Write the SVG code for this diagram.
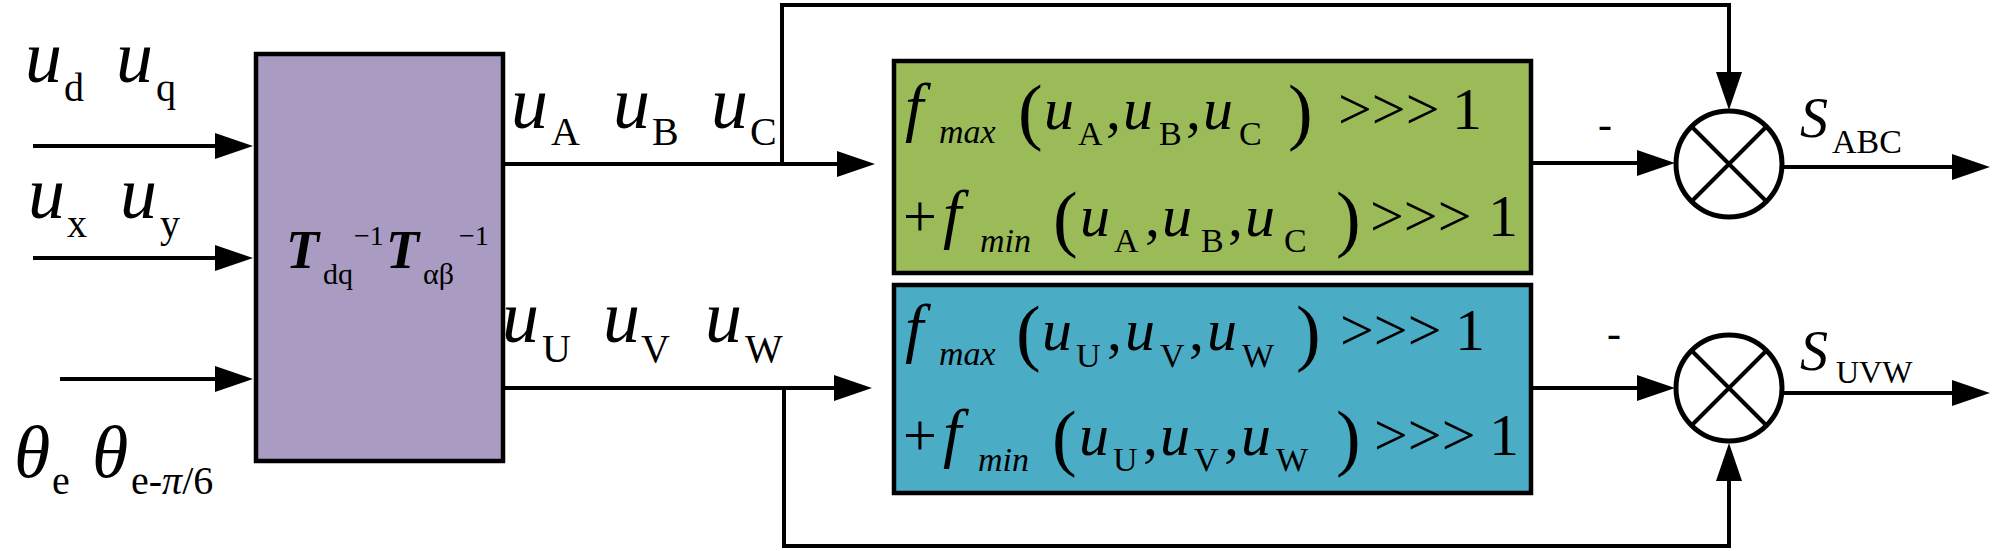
<svg xmlns="http://www.w3.org/2000/svg" width="2000" height="551" viewBox="0 0 2000 551">
<style>
.box{stroke:#000;stroke-width:4.5}
.ln{fill:none;stroke:#000;stroke-width:4;stroke-linejoin:miter}
.arr{marker-end:url(#ah)}
.t{font-family:"Liberation Serif","Times New Roman",serif;fill:#000}
.i{font-style:italic}
.big{font-size:74px}
.sub{font-size:40px}
.m{font-size:60px}
.f{font-size:66px;font-style:italic}
.ms{font-size:34px}
.p{font-size:74px}
</style>
<defs>
<marker id="ah" markerWidth="38" markerHeight="26" refX="18" refY="13" orient="auto" markerUnits="userSpaceOnUse">
<path d="M0,0 L38,13 L0,26 z" fill="#000"/>
</marker>
</defs>
<rect width="2000" height="551" fill="#fff"/>

<g id="connectors">
<path class="ln arr" d="M33,146 H233"/>
<path class="ln arr" d="M33,258 H233"/>
<path class="ln arr" d="M60,379 H233"/>
<path class="ln arr" d="M503,164 H855"/>
<path class="ln arr" d="M503,388 H852"/>
<path class="ln arr" d="M782,164 V5 H1729 V90"/>
<path class="ln arr" d="M784,388 V546 H1729 V463"/>
<path class="ln arr" d="M1531,163 H1655"/>
<path class="ln arr" d="M1531,388 H1655"/>
<path class="ln arr" d="M1783,167 H1970"/>
<path class="ln arr" d="M1783,393 H1970"/>
</g>

<g id="node-transform">
<rect class="box" x="256" y="54" width="247" height="407" fill="#A99BC1"/>
<text class="t" y="268"><tspan x="286" font-size="54" font-weight="bold" font-style="italic">T</tspan><tspan x="323" y="284" font-size="30">dq</tspan><tspan x="354" y="245" font-size="28">−1</tspan><tspan x="386" y="268" font-size="54" font-weight="bold" font-style="italic">T</tspan><tspan x="423" y="284" font-size="30">αβ</tspan><tspan x="459" y="245" font-size="28">−1</tspan></text>
</g>

<g id="node-green">
<rect class="box" x="894" y="61" width="637" height="212" fill="#9BBB59"/>
<text class="t" y="129"><tspan x="905" class="f">f</tspan><tspan x="939" y="143" class="ms i">max</tspan><tspan x="1018" y="136" class="p">(</tspan><tspan x="1044" y="129" class="m i">u</tspan><tspan x="1078" y="145" class="ms">A</tspan><tspan x="1106" y="129" class="m">,</tspan><tspan x="1123" class="m i">u</tspan><tspan x="1159" y="145" class="ms">B</tspan><tspan x="1186" y="129" class="m">,</tspan><tspan x="1203" class="m i">u</tspan><tspan x="1239" y="145" class="ms">C</tspan><tspan x="1288" y="136" class="p">)</tspan><tspan x="1338" y="129" class="m">&gt;&gt;&gt;</tspan><tspan x="1452" class="m">1</tspan></text>
<text class="t" y="236"><tspan x="903" class="m">+</tspan><tspan x="943" class="f">f</tspan><tspan x="980" y="252" class="ms i">min</tspan><tspan x="1053" y="243" class="p">(</tspan><tspan x="1080" y="236" class="m i">u</tspan><tspan x="1114" y="252" class="ms">A</tspan><tspan x="1145" y="236" class="m">,</tspan><tspan x="1162" class="m i">u</tspan><tspan x="1201" y="252" class="ms">B</tspan><tspan x="1228" y="236" class="m">,</tspan><tspan x="1245" class="m i">u</tspan><tspan x="1284" y="252" class="ms">C</tspan><tspan x="1336" y="243" class="p">)</tspan><tspan x="1370" y="236" class="m">&gt;&gt;&gt;</tspan><tspan x="1488" class="m">1</tspan></text>
</g>

<g id="node-blue">
<rect class="box" x="894" y="285" width="637" height="208" fill="#4BACC6"/>
<text class="t" y="350"><tspan x="905" class="f">f</tspan><tspan x="939" y="365" class="ms i">max</tspan><tspan x="1016" y="357" class="p">(</tspan><tspan x="1042" y="350" class="m i">u</tspan><tspan x="1076" y="367" class="ms">U</tspan><tspan x="1107" y="350" class="m">,</tspan><tspan x="1125" class="m i">u</tspan><tspan x="1160" y="367" class="ms">V</tspan><tspan x="1189" y="350" class="m">,</tspan><tspan x="1207" class="m i">u</tspan><tspan x="1242" y="367" class="ms">W</tspan><tspan x="1296" y="357" class="p">)</tspan><tspan x="1340" y="350" class="m">&gt;&gt;&gt;</tspan><tspan x="1455" class="m">1</tspan></text>
<text class="t" y="455"><tspan x="903" class="m">+</tspan><tspan x="943" class="f">f</tspan><tspan x="978" y="471" class="ms i">min</tspan><tspan x="1052" y="462" class="p">(</tspan><tspan x="1079" y="455" class="m i">u</tspan><tspan x="1113" y="471" class="ms">U</tspan><tspan x="1143" y="455" class="m">,</tspan><tspan x="1160" class="m i">u</tspan><tspan x="1194" y="471" class="ms">V</tspan><tspan x="1224" y="455" class="m">,</tspan><tspan x="1241" class="m i">u</tspan><tspan x="1276" y="471" class="ms">W</tspan><tspan x="1336" y="462" class="p">)</tspan><tspan x="1374" y="455" class="m">&gt;&gt;&gt;</tspan><tspan x="1489" class="m">1</tspan></text>
</g>

<g id="node-sum-abc">
<circle cx="1729" cy="164" r="53" fill="#fff" stroke="#000" stroke-width="5"/>
<path class="ln" d="M1691.5,126.5 L1766.5,201.5 M1766.5,126.5 L1691.5,201.5"/>
</g>

<g id="node-sum-uvw">
<circle cx="1729" cy="388" r="53" fill="#fff" stroke="#000" stroke-width="5"/>
<path class="ln" d="M1691.5,350.5 L1766.5,425.5 M1766.5,350.5 L1691.5,425.5"/>
</g>

<g id="labels">
<text class="t" y="82"><tspan x="25" class="big i">u</tspan><tspan x="64" y="101" class="sub">d</tspan><tspan x="116" y="82" class="big i">u</tspan><tspan x="156" y="101" class="sub">q</tspan></text>
<text class="t" y="218"><tspan x="28" class="big i">u</tspan><tspan x="67" y="237" class="sub">x</tspan><tspan x="120" y="218" class="big i">u</tspan><tspan x="160" y="237" class="sub">y</tspan></text>
<text class="t" y="477"><tspan x="14" class="big i">θ</tspan><tspan x="52" y="494" class="sub">e</tspan><tspan x="92" y="477" class="big i">θ</tspan><tspan x="131" y="494" class="sub">e-</tspan><tspan class="sub i">π</tspan><tspan class="sub">/6</tspan></text>
<text class="t" y="128"><tspan x="511" class="big i">u</tspan><tspan x="551" y="145" class="sub">A</tspan><tspan x="613" y="128" class="big i">u</tspan><tspan x="652" y="145" class="sub">B</tspan><tspan x="711" y="128" class="big i">u</tspan><tspan x="750" y="145" class="sub">C</tspan></text>
<text class="t" y="342"><tspan x="502" class="big i">u</tspan><tspan x="542" y="362" class="sub">U</tspan><tspan x="603" y="342" class="big i">u</tspan><tspan x="641" y="362" class="sub">V</tspan><tspan x="705" y="342" class="big i">u</tspan><tspan x="745" y="362" class="sub">W</tspan></text>
<text class="t" x="1598" y="138" font-size="42">-</text>
<text class="t" x="1607" y="347" font-size="42">-</text>
<text class="t" y="137"><tspan x="1800" font-size="56" font-style="italic">S</tspan><tspan x="1832" y="153" font-size="34">ABC</tspan></text>
<text class="t" y="370"><tspan x="1800" font-size="56" font-style="italic">S</tspan><tspan x="1836" y="383" font-size="32">UVW</tspan></text>
</g>
</svg>
